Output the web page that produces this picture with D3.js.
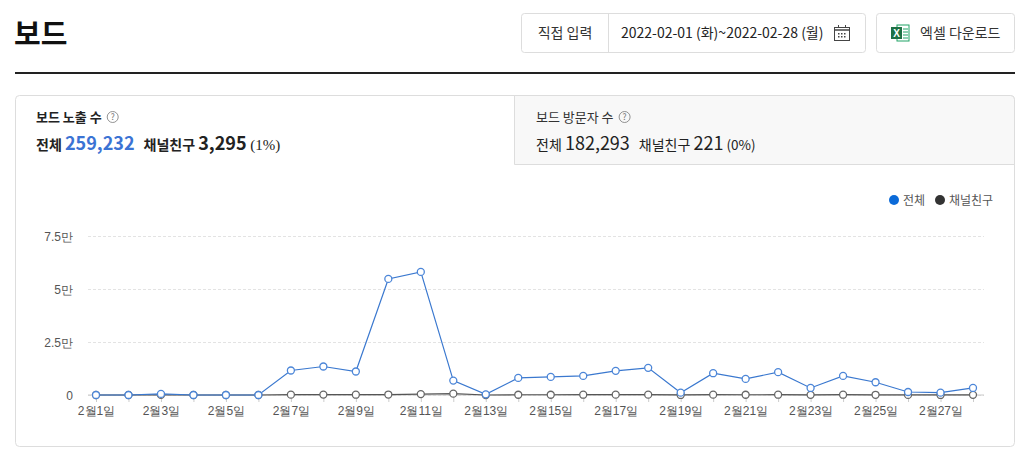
<!DOCTYPE html>
<html>
<head>
<meta charset="utf-8">
<script src="https://cdn.jsdelivr.net/npm/d3@7"></script>
<style>
  body { margin: 0; background: #fff; }
  svg { font-family: "Noto Sans CJK KR", "Noto Sans", sans-serif; display: block; }
  .tick text { fill: #555; font-size: 12px; }
</style>
</head>
<body>
<div id="chart"></div>
<script>
// days of February 2022
const days = d3.range(1, 29);
// 전체 (all viewers)
const totalValues = [0, 0, 500, 0, 0, 0, 11550, 13450, 11080, 54750, 58070, 6800, 300, 8070,
    8540, 9020, 11390, 12820, 1100, 10280, 7600, 10760, 3320, 9020, 6010, 1420, 1110, 3320];
// 채널친구 (channel friends)
const friendValues = [0, 0, 40, 0, 0, 0, 150, 180, 140, 220, 425, 630, 10, 120,
    110, 130, 160, 170, 20, 150, 110, 140, 60, 130, 90, 30, 20, 60];
const yTicks = [0, 25000, 50000, 75000];
const seriesNames = ['전체', '채널친구'];
const seriesColors = ['#0b6ad8', '#333333'];
// summary figures shown in the tabs
const tabTitles = ['보드 노출 수', '보드 방문자 수'];
const tabTotals = [259232, 182293];
const tabFriends = [3295, 221];
const tabShares = ['1%', '0%'];

const width = 1030, height = 462;
const svg = d3.select('#chart').append('svg')
    .attr('width', width)
    .attr('height', height);

// ---- page header ----
svg.append('text')
    .attr('x', 14).attr('y', 45)
    .attr('font-size', 29).attr('font-weight', 700).attr('fill', '#111')
    .text('보드');

svg.append('rect')
    .attr('x', 521.5).attr('y', 13.5).attr('width', 344).attr('height', 39)
    .attr('rx', 3).attr('fill', '#fff').attr('stroke', '#ddd');
svg.append('line')
    .attr('x1', 608.5).attr('x2', 608.5).attr('y1', 14).attr('y2', 52)
    .attr('stroke', '#ddd');
svg.append('text')
    .attr('x', 565).attr('y', 38).attr('text-anchor', 'middle')
    .attr('font-size', 14).attr('fill', '#333')
    .text('직접 입력');
svg.append('text')
    .attr('x', 621).attr('y', 38)
    .attr('font-size', 14).attr('fill', '#222')
    .text('2022-02-01 (화)~2022-02-28 (월)');

// calendar icon
let cal = svg.append('g').attr('transform', 'translate(834,25)');
cal.append('rect').attr('x', 0.5).attr('y', 2.5).attr('width', 15).attr('height', 13)
    .attr('fill', 'none').attr('stroke', '#444');
cal.append('line').attr('x1', 0).attr('x2', 16).attr('y1', 5).attr('y2', 5).attr('stroke', '#444').attr('stroke-width', 1.5);
cal.append('line').attr('x1', 4.5).attr('x2', 4.5).attr('y1', 0).attr('y2', 3).attr('stroke', '#444');
cal.append('line').attr('x1', 11.5).attr('x2', 11.5).attr('y1', 0).attr('y2', 3).attr('stroke', '#444');
[[4, 8], [7, 8], [10, 8], [4, 11], [7, 11], [10, 11]].forEach(p => {
    cal.append('rect').attr('x', p[0]).attr('y', p[1]).attr('width', 1.5).attr('height', 1.5).attr('fill', '#444');
});

svg.append('rect')
    .attr('x', 876.5).attr('y', 13.5).attr('width', 138).attr('height', 39)
    .attr('rx', 3).attr('fill', '#fff').attr('stroke', '#ddd');
// excel icon
let xl = svg.append('g').attr('transform', 'translate(891,24)');
xl.append('rect').attr('x', 6).attr('y', 1).attr('width', 12).attr('height', 16).attr('fill', '#fff').attr('stroke', '#21a366');
[5, 8, 11, 14].forEach(yy => {
    xl.append('line').attr('x1', 12).attr('x2', 17).attr('y1', yy).attr('y2', yy).attr('stroke', '#21a366');
});
xl.append('rect').attr('x', 0).attr('y', 3).attr('width', 11).attr('height', 12).attr('fill', '#1e7145');
xl.append('text').attr('x', 5.5).attr('y', 13).attr('text-anchor', 'middle')
    .attr('font-size', 10).attr('font-weight', 700).attr('fill', '#fff')
    .attr('font-family', 'Arial, Liberation Sans, sans-serif').text('X');
svg.append('text')
    .attr('x', 920).attr('y', 38)
    .attr('font-size', 14).attr('fill', '#333')
    .text('엑셀 다운로드');

svg.append('line')
    .attr('x1', 15).attr('x2', 1015).attr('y1', 73).attr('y2', 73)
    .attr('stroke', '#222').attr('stroke-width', 2);

// ---- panel with tabs ----
svg.append('rect')
    .attr('x', 15.5).attr('y', 95.5).attr('width', 999).attr('height', 351)
    .attr('rx', 4).attr('fill', '#fff').attr('stroke', '#ddd');
svg.append('path')
    .attr('d', 'M514.5,164.5 V95.5 H1010.5 Q1014.5,95.5 1014.5,99.5 V164.5 Z')
    .attr('fill', '#f8f8f8').attr('stroke', '#ddd');

function helpIcon(cx, cy) {
    svg.append('circle').attr('cx', cx).attr('cy', cy).attr('r', 5.5)
        .attr('fill', 'none').attr('stroke', '#777').attr('stroke-width', 0.8);
    svg.append('text').attr('x', cx).attr('y', cy + 3).attr('text-anchor', 'middle')
        .attr('font-size', 8.5).attr('fill', '#777').text('?');
}

const fmt = d3.format(',');
// tab 0 is active (bold, blue total), tab 1 is inactive
[36, 536].forEach((tx, i) => {
    const weight = i === 0 ? 700 : 400;
    let title = svg.append('text').attr('x', tx).attr('y', 122)
        .attr('font-size', 13).attr('font-weight', weight).attr('fill', i === 0 ? '#222' : '#333')
        .text(tabTitles[i]);
    helpIcon(tx + title.node().getComputedTextLength() + 11, 117);

    let ln = svg.append('text').attr('x', tx).attr('y', 150).attr('fill', '#222')
        .attr('font-weight', weight);
    ln.append('tspan').attr('font-size', 14).text('전체 ');
    ln.append('tspan').attr('font-size', 18).attr('fill', i === 0 ? '#3b73d4' : '#222')
        .text(fmt(tabTotals[i]));
    ln.append('tspan').attr('dx', 9).attr('font-size', 14).text('채널친구 ');
    ln.append('tspan').attr('font-size', 18).text(fmt(tabFriends[i]));
    ln.append('tspan').attr('font-size', i === 0 ? 15 : 13.5).attr('font-weight', 400)
        .attr('font-family', i === 0 ? 'Liberation Serif, serif' : null)
        .text(' (' + tabShares[i] + ')');
});

// ---- legend ----
let legend = svg.append('g');
[[894, 903], [940, 949]].forEach((p, i) => {
    legend.append('circle').attr('cx', p[0]).attr('cy', 200).attr('r', 5).attr('fill', seriesColors[i]);
    legend.append('text').attr('x', p[1]).attr('y', 204.5)
        .attr('font-size', 12).attr('fill', '#555').text(seriesNames[i]);
});

// ---- chart ----
const plotLeft = 88, plotRight = 984;
const x = d3.scaleLinear().domain([1, 28]).range([96, 973]);
const y = d3.scaleLinear().domain([0, 75000]).range([395, 236]);

const yAxis = svg.append('g')
    .attr('transform', 'translate(' + plotLeft + ',0)')
    .call(d3.axisLeft(y)
        .tickValues(yTicks)
        .tickSize(-(plotRight - plotLeft))
        .tickPadding(15)
        .tickFormat(d => d === 0 ? '0' : (d / 10000) + '만'));
yAxis.select('.domain').remove();
yAxis.selectAll('.tick line')
    .attr('stroke', '#e3e3e3').attr('stroke-dasharray', '3,2');
yAxis.selectAll('.tick text').attr('dy', '0.35em').attr('font-size', 12);

const xAxis = svg.append('g')
    .attr('transform', 'translate(0,' + y(0) + ')')
    .call(d3.axisBottom(x)
        .tickValues(days)
        .tickSize(7)
        .tickPadding(4)
        .tickFormat(d => d % 2 === 1 ? '2월' + d + '일' : ''));
xAxis.select('.domain').remove();
xAxis.selectAll('.tick line').attr('stroke', '#ccc');
xAxis.selectAll('.tick text').attr('font-size', 12);
xAxis.append('line')
    .attr('x1', plotLeft).attr('x2', plotRight)
    .attr('stroke', '#c8c8c8');

const line = d3.line()
    .x((d, i) => x(days[i]))
    .y(d => y(d));

const series = [
    { values: friendValues, stroke: '#555', marker: '#666' },
    { values: totalValues, stroke: '#3a78cf', marker: '#4c86d8' }
];

series.forEach(s => {
    svg.append('path')
        .datum(s.values)
        .attr('fill', 'none')
        .attr('stroke', s.stroke)
        .attr('stroke-width', 1.2)
        .attr('d', line);
    svg.append('g').selectAll('circle')
        .data(s.values)
        .enter()
        .append('circle')
        .attr('cx', (d, i) => x(days[i]))
        .attr('cy', d => y(d))
        .attr('r', 3.5)
        .attr('fill', '#fff')
        .attr('stroke', s.marker)
        .attr('stroke-width', 1.3);
});
</script>
</body>
</html>
